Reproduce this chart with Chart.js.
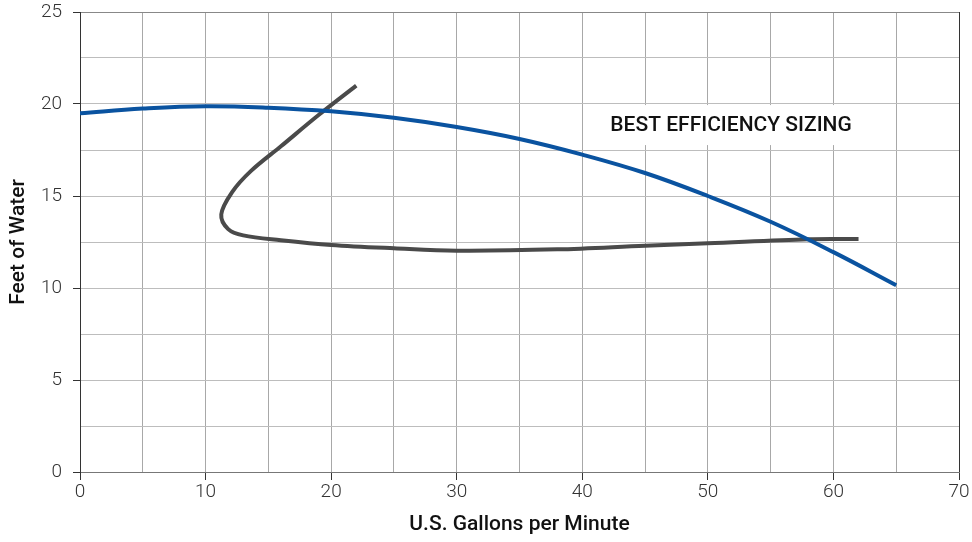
<!DOCTYPE html>
<html>
<head>
<meta charset="utf-8">
<title>Bomba</title>
<script src="https://cdn.jsdelivr.net/npm/chart.js@4.4.1/dist/chart.umd.min.js"></script>
<style>
	body{margin:0;background:#fff;}
	#caja{width:972px;height:542px;}
</style>
</head>
<body>
<div id="caja"><canvas id="idGrafica" width="972" height="542"></canvas></div>
<script>
// curva de la bomba (caudal gpm, pies de agua)
var bombaX = [0, 5, 10, 15, 20, 25, 30, 35, 40, 45, 50, 55, 60, 65];
var bombaY = [19.5, 19.75, 19.88, 19.8, 19.6, 19.25, 18.75, 18.1, 17.25, 16.25, 15.0, 13.6, 11.95, 10.15];

// curva de eficiencia (gris)
var eficX = [22, 19, 16, 13.6, 12.1, 11.25, 11.8, 13.0, 16, 20, 25, 30, 38, 45, 50, 58, 62];
var eficY = [21.0, 19.4, 17.7, 16.35, 15.2, 14.0, 13.2, 12.86, 12.6, 12.34, 12.16, 12.03, 12.1, 12.3, 12.43, 12.65, 12.66];

var etiquetaTexto = "BEST EFFICIENCY SIZING";
var etiquetaPos = [51.85, 18.8];

var tituloX = "U.S. Gallons per Minute";
var tituloY = "Feet of Water";

function puntos(xs, ys){
	var p = new Array();
	for (let i in xs){
		p.push({x: xs[i], y: ys[i]});
	}
	return p;
}

// texto con fondo blanco encima de la rejilla
var etiqueta = {
	id: 'etiqueta',
	beforeDatasetsDraw: function(chart){
		var c = chart.ctx;
		var px = chart.scales.x.getPixelForValue(etiquetaPos[0]);
		var py = chart.scales.y.getPixelForValue(etiquetaPos[1]);
		c.save();
		c.font = "500 21px Roboto";
		var w = c.measureText(etiquetaTexto).width;
		c.fillStyle = "#fff";
		c.fillRect(px - w/2 - 10, py - 21, w + 20, 40);
		c.fillStyle = "#111";
		c.textAlign = "center";
		c.textBaseline = "middle";
		c.fillText(etiquetaTexto, px, py);
		c.restore();
	}
};

var ctx = document.getElementById('idGrafica').getContext('2d');
var myChart = new Chart(ctx, {
	type: 'scatter',
	data: {
		datasets: [
			{
				label: 'bomba',
				data: puntos(bombaX, bombaY),
				showLine: true,
				borderColor: '#0a53a0',
				borderWidth: 4,
				pointRadius: 0,
				tension: 0.4
			},
			{
				label: 'eficiencia',
				data: puntos(eficX, eficY),
				showLine: true,
				borderColor: '#4a4a4a',
				borderWidth: 4,
				pointRadius: 0,
				tension: 0.35
			}
		]
	},
	options: {
		responsive: false,
		animation: false,
		layout: {padding: {top: 12, right: 13, left: 0, bottom: 0}},
		plugins: {legend: {display: false}, tooltip: {enabled: false}},
		scales: {
			x: {
				type: 'linear',
				min: 0,
				max: 70,
				afterFit: function(s){ s.height = 70; s.paddingLeft = 0; s.paddingRight = 0; },
				border: {color: '#777', width: 1},
				grid: {
					color: function(c){ return c.tick && c.tick.value === 70 ? '#333' : '#a8a8a8'; },
					tickColor: function(c){ return c.tick && c.tick.value % 10 === 0 ? '#333' : 'rgba(0,0,0,0)'; },
					tickLength: 8
				},
				ticks: {
					stepSize: 5,
					padding: 1,
					maxRotation: 0,
					color: '#333',
					font: {family: 'Roboto', size: 19, weight: '300'},
					callback: function(v){ return v % 10 === 0 ? v : ''; }
				},
				title: {
					display: true,
					text: tituloX,
					color: '#111',
					font: {family: 'Roboto', size: 21, weight: '500'},
					padding: {top: 0, bottom: 5}
				}
			},
			y: {
				type: 'linear',
				min: 0,
				max: 25,
				afterFit: function(s){ s.width = 80; s.paddingTop = 0; s.paddingBottom = 0; },
				border: {color: '#333', width: 1},
				grid: {
					color: function(c){ return c.tick && c.tick.value === 25 ? '#888' : '#bdbdbd'; },
					tickColor: function(c){ return c.tick && c.tick.value % 5 === 0 ? '#333' : 'rgba(0,0,0,0)'; },
					tickLength: 7
				},
				ticks: {
					stepSize: 2.5,
					padding: 11,
					color: '#333',
					font: {family: 'Roboto', size: 19, weight: '300'},
					callback: function(v){ return v % 5 === 0 ? v : ''; }
				},
				title: {
					display: true,
					text: tituloY,
					color: '#111',
					font: {family: 'Roboto', size: 21, weight: '500'},
					padding: {top: 6, bottom: 0}
				}
			}
		}
	},
	plugins: [etiqueta]
});
</script>
</body>
</html>
